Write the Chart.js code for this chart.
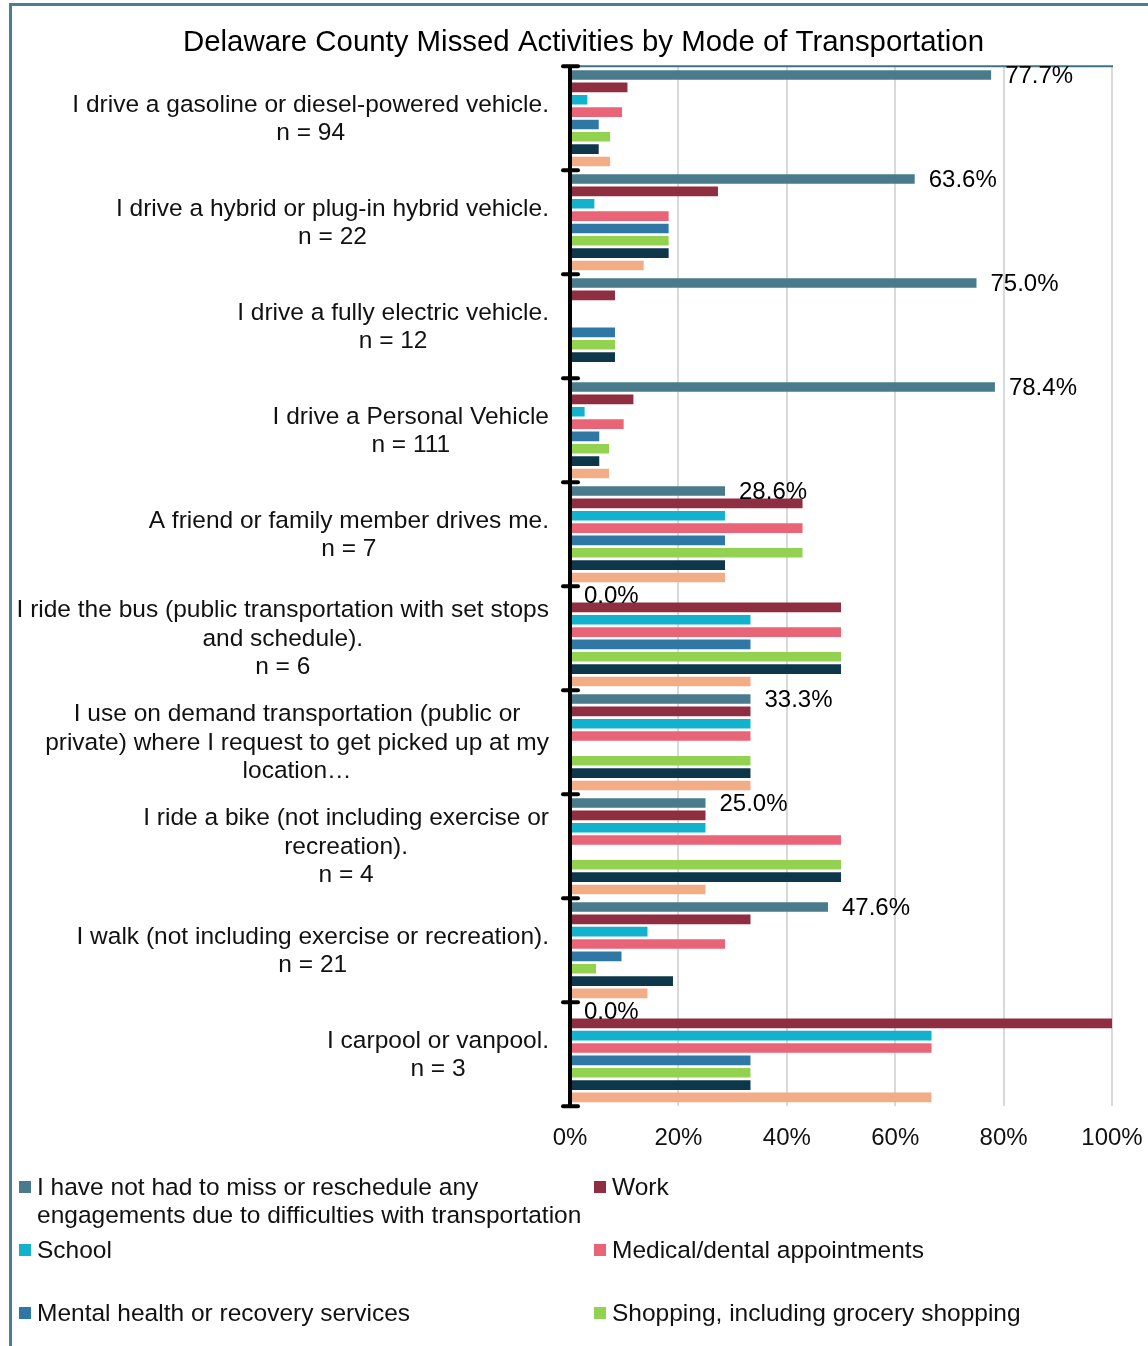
<!DOCTYPE html>
<html>
<head>
<meta charset="utf-8">
<title>Delaware County Missed Activities by Mode of Transportation</title>
<script src="https://cdn.jsdelivr.net/npm/chart.js@4/dist/chart.umd.min.js"></script>
<style>
  html, body { margin: 0; padding: 0; background: #fff; }
  body { width: 1148px; height: 1346px; overflow: hidden; position: relative;
         font-family: "Liberation Sans", Arial, sans-serif; color: #111; }
  #frame { position: absolute; left: 9px; top: 3px; width: 1300px; height: 1400px;
           border-top: 3px solid #4d7d90; border-left: 3px solid #4d7d90; box-sizing: border-box; }
  #wrap { position: absolute; left: 12px; top: 6px; width: 1143px; height: 1178px; }
  #legend { position: absolute; left: 0; top: 0; width: 1148px; height: 1346px; pointer-events: none; }
  .item { position: absolute; font-size: 24.5px; line-height: 28px; }
  .item .box { position: absolute; left: 0; top: 8px; width: 12px; height: 12px; }
  .item .txt { position: absolute; left: 18px; top: 0; width: 556px; }
</style>
</head>
<body>
<div id="frame"></div>
<div id="wrap"><canvas id="chart" width="1143" height="1178"></canvas></div>
<div id="legend"></div>
<script>
// Transportation modes (each entry is the lines of its axis label)
const modeLabels = [
  ["I drive a gasoline or diesel-powered vehicle.", "n = 94"],
  ["I drive a hybrid or plug-in hybrid vehicle.", "n = 22"],
  ["I drive a fully electric vehicle.", "n = 12"],
  ["I drive a Personal Vehicle", "n = 111"],
  ["A friend or family member drives me.", "n = 7"],
  ["I ride the bus (public transportation with set stops", "and schedule).", "n = 6"],
  ["I use on demand transportation (public or", "private) where I request to get picked up at my", "location\u2026"],
  ["I ride a bike (not including exercise or", "recreation).", "n = 4"],
  ["I walk (not including exercise or recreation).", "n = 21"],
  ["I carpool or vanpool.", "n = 3"]
];

// Activity series names and colours
const seriesNames = [
  "I have not had to miss or reschedule any engagements due to difficulties with transportation",
  "Work",
  "School",
  "Medical/dental appointments",
  "Mental health or recovery services",
  "Shopping, including grocery shopping",
  "Social or recreational activities",
  "Other"
];
const seriesColors = ["#4a7b8c", "#8e2e40", "#13b1cb", "#e96476", "#2f77a4", "#93d250", "#0e374c", "#f2ac86"];

// Percent of respondents per mode, one array per activity
const notMissed   = [77.7, 63.6, 75.0, 78.4, 28.6, 0.0, 33.3, 25.0, 47.6, 0.0];
const work        = [10.6, 27.3, 8.3, 11.7, 42.9, 50.0, 33.3, 25.0, 33.3, 100.0];
const school      = [3.2, 4.5, 0.0, 2.7, 28.6, 33.3, 33.3, 25.0, 14.3, 66.7];
const medical     = [9.6, 18.2, 0.0, 9.9, 42.9, 50.0, 33.3, 50.0, 28.6, 66.7];
const mentalHealth= [5.3, 18.2, 8.3, 5.4, 28.6, 33.3, 0.0, 0.0, 9.5, 33.3];
const shopping    = [7.4, 18.2, 8.3, 7.2, 42.9, 50.0, 33.3, 50.0, 4.8, 33.3];
const social      = [5.3, 18.2, 8.3, 5.4, 28.6, 50.0, 33.3, 50.0, 19.0, 33.3];
const other       = [7.4, 13.6, 0.0, 7.2, 28.6, 33.3, 33.3, 25.0, 14.3, 66.7];

const seriesValues = [notMissed, work, school, medical, mentalHealth, shopping, social, other];

// X axis tick values (percent)
const xTicks = [0, 20, 40, 60, 80, 100];

const FONT = '"Liberation Sans", Arial, sans-serif';
Chart.defaults.font.family = FONT;
Chart.defaults.color = '#111';

// Draws the plot top rule, the black category axis and its crossing ticks
const axisDecor = {
  id: 'axisDecor',
  afterDatasetsDraw(chart) {
    const { ctx, chartArea: a } = chart;
    const n = modeLabels.length;
    const step = (a.bottom - a.top) / n;
    ctx.save();
    ctx.strokeStyle = '#3e7287';
    ctx.lineWidth = 2;
    ctx.beginPath();
    ctx.moveTo(a.left, a.top);
    ctx.lineTo(a.right + 1, a.top);
    ctx.stroke();

    ctx.strokeStyle = '#000';
    ctx.lineWidth = 4;
    ctx.lineCap = 'butt';
    ctx.beginPath();
    ctx.moveTo(a.left, a.top - 1);
    ctx.lineTo(a.left, a.bottom + 1);
    ctx.stroke();

    ctx.lineCap = 'round';
    for (let i = 0; i <= n; i++) {
      const yy = a.top + i * step;
      ctx.beginPath();
      ctx.moveTo(a.left - 7, yy);
      ctx.lineTo(a.left + 8, yy);
      ctx.stroke();
    }
    ctx.restore();
  }
};

// Value labels next to the first series' bars
const valueLabels = {
  id: 'valueLabels',
  afterDatasetsDraw(chart) {
    const { ctx } = chart;
    const meta = chart.getDatasetMeta(0);
    const data = chart.data.datasets[0].data;
    ctx.save();
    ctx.font = '24px ' + FONT;
    ctx.fillStyle = '#000';
    ctx.textAlign = 'left';
    ctx.textBaseline = 'middle';
    meta.data.forEach((bar, i) => {
      ctx.fillText(data[i].toFixed(1) + '%', bar.x + 14, bar.y + 1);
    });
    ctx.restore();
  }
};

// Category labels: lines centred on each other, block right-aligned to the axis
const categoryLabels = {
  id: 'categoryLabels',
  afterDraw(chart) {
    const { ctx, chartArea: a, scales: { y } } = chart;
    const lineH = 28.5;
    const right = a.left - 21;
    ctx.save();
    ctx.font = '24.5px ' + FONT;
    ctx.fillStyle = '#111';
    ctx.textAlign = 'center';
    ctx.textBaseline = 'middle';
    modeLabels.forEach((lines, i) => {
      const cy = y.getPixelForValue(i);
      const w = Math.max(...lines.map(l => ctx.measureText(l).width));
      const cx = right - w / 2;
      lines.forEach((l, j) => {
        ctx.fillText(l, cx, cy + (j - (lines.length - 1) / 2) * lineH + 1);
      });
    });
    ctx.restore();
  }
};

new Chart(document.getElementById('chart'), {
  type: 'bar',
  data: {
    labels: modeLabels,
    datasets: seriesNames.map((name, k) => ({
      label: name,
      data: seriesValues[k],
      backgroundColor: seriesColors[k],
      borderWidth: 0,
      categoryPercentage: 0.95,
      barPercentage: 0.78
    }))
  },
  options: {
    indexAxis: 'y',
    responsive: false,
    animation: false,
    devicePixelRatio: 1,
    layout: { padding: { left: 43, right: 43, top: 0, bottom: 13 } },
    plugins: {
      legend: { display: false },
      tooltip: { enabled: false },
      title: {
        display: true,
        text: 'Delaware County Missed Activities by Mode of Transportation',
        color: '#000',
        font: { size: 29.4, weight: 'normal', family: FONT },
        padding: { top: 19, bottom: 6 }
      }
    },
    scales: {
      x: {
        min: 0,
        max: 100,
        afterBuildTicks(scale) { scale.ticks = xTicks.map(v => ({ value: v })); },
        afterFit(scale) { scale.paddingLeft = 0; scale.paddingRight = 0; },
        grid: { color: '#d9d9d9', lineWidth: 2, drawTicks: false },
        border: { display: false },
        ticks: {
          padding: 18,
          color: '#111',
          font: { size: 24, family: FONT },
          callback: v => v + '%'
        }
      },
      y: {
        grid: { display: false },
        border: { display: false },
        ticks: { display: false },
        afterFit(scale) { scale.width = 515; }
      }
    }
  },
  plugins: [axisDecor, valueLabels, categoryLabels]
});

// Legend in two columns; rows are spaced evenly beneath the chart
const legend = document.getElementById('legend');
seriesNames.forEach((name, k) => {
  const col = k % 2, row = Math.floor(k / 2);
  const item = document.createElement('div');
  item.className = 'item';
  item.style.left = (col === 0 ? 19 : 594) + 'px';
  item.style.top = (1173 + row * 63) + 'px';
  const box = document.createElement('div');
  box.className = 'box';
  box.style.background = seriesColors[k];
  const txt = document.createElement('div');
  txt.className = 'txt';
  txt.textContent = name;
  item.appendChild(box);
  item.appendChild(txt);
  legend.appendChild(item);
});
</script>
</body>
</html>
